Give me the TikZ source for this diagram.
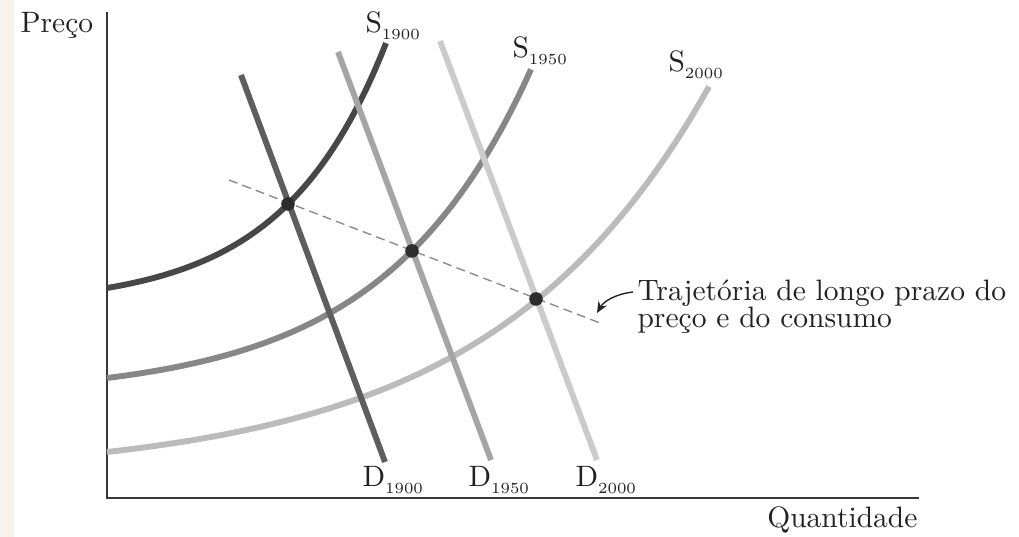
\documentclass[tikz,border=0pt]{standalone}
\usepackage{tikz}
\usetikzlibrary{arrows.meta}
\definecolor{ink}{HTML}{222222}
\definecolor{strip}{HTML}{F7F2EC}
\definecolor{dashc}{HTML}{8C8C8C}
\definecolor{sA}{HTML}{474747}
\definecolor{dA}{HTML}{5E5E5E}
\definecolor{sB}{HTML}{878787}
\definecolor{dB}{HTML}{A5A5A5}
\definecolor{sC}{HTML}{BBBBBB}
\definecolor{dC}{HTML}{CBCBCB}
\newcommand{\yrsub}[1]{\raisebox{-0.5ex}{\fontsize{5.5}{6}\selectfont #1}}
\tikzset{
  lbl/.style={text=ink,inner sep=0pt,font=\fontsize{10.5}{9.9}\selectfont},
  axis/.style={draw=ink!90,line width=0.7pt},
  curve/.style={line width=2.1pt},
  path/.style={draw=dashc,line width=0.5pt,dash pattern=on 3.2pt off 1.9pt},
  eq/.style={circle,fill=ink!95,inner sep=0pt,minimum size=1.7mm},
  fl/.style={-{Stealth[length=4pt,width=3.4pt]},draw=ink,line width=0.5pt},
}

\begin{document}
\begin{tikzpicture}[x=0.125mm,y=-0.125mm]
\useasboundingbox (0,0) rectangle (1019,537);
\fill[strip] (0,0) rectangle (14,537);
% axes
\coordinate (orig) at (107,498);
\coordinate (ytop) at (107,12);
\coordinate (xend) at (919,498);
\draw[axis] (ytop) -- (orig) -- (xend);
\node[lbl,anchor=base west] (preco) at (20,33) {Preço};
\node[lbl,anchor=base east] (quant) at (918,528) {Quantidade};
% supply curves
\foreach \yr/\col/\sy/\sA/\sk/\su in {
  1900/sA/288/17.5/0.0097/279,
  1950/sB/378/18.25/0.0068/424,
  2000/sC/452/24.56/0.0046/602} {
  \draw[curve,draw=\col] plot[domain=0:\su,samples=60,smooth]
    ({107+\x},{\sy-\sA*(exp(\sk*\x)-1)});
}
% demand curves
\foreach \yr/\col/\tx/\ty/\bx/\by in {
  1900/dA/241/75/385/462,
  1950/dB/338/52/491/460,
  2000/dC/440/41/597/460} {
  \coordinate (d\yr t) at (\tx,\ty);
  \coordinate (d\yr b) at (\bx,\by);
  \draw[curve,draw=\col] (d\yr t) -- (d\yr b);
}
\node[lbl,anchor=base west] (s1900) at (365,33) {S\yrsub{1900}};
\node[lbl,anchor=base west] (s1950) at (512,58) {S\yrsub{1950}};
\node[lbl,anchor=base west] (s2000) at (668,72) {S\yrsub{2000}};
\node[lbl,anchor=base west] (d1900) at (362,487) {D\yrsub{1900}};
\node[lbl,anchor=base west] (d1950) at (468,487) {D\yrsub{1950}};
\node[lbl,anchor=base west] (d2000) at (575,487) {D\yrsub{2000}};
% long-run path
\coordinate (pathA) at (229,180);
\coordinate (pathB) at (600,323);
\draw[path] (pathA) -- (pathB);
\node[eq] (e1900) at (288,204) {};
\node[eq] (e1950) at (412,251) {};
\node[eq] (e2000) at (536,299) {};
\node[lbl,anchor=base west,align=left] (traj) at (637,328)
  {Trajetória de longo prazo do\\preço e do consumo};
\coordinate (arrtail) at (633,292);
\coordinate (arrtip) at (597,313);
\draw[fl] (arrtail) .. controls (616,294) and (604,301) .. (arrtip);
\end{tikzpicture}
\end{document}
